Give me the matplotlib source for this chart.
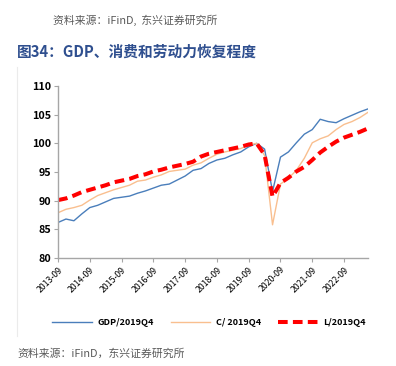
import matplotlib
matplotlib.use('Agg')
import matplotlib.pyplot as plt
from matplotlib.lines import Line2D

plt.rcParams['font.family'] = ['Noto Sans CJK SC', 'DejaVu Sans']

# quarterly data, 2013-09 .. 2023-06, index 2019Q4 = 100
quarters = [f'{y}-{m:02d}' for y in range(2013, 2024) for m in (3, 6, 9, 12)][2:42]
gdp = [86.2, 86.8, 86.5, 87.7, 88.8, 89.2, 89.8, 90.4, 90.6, 90.8,
       91.3, 91.7, 92.2, 92.7, 92.9, 93.6, 94.3, 95.3, 95.6, 96.5,
       97.1, 97.4, 98.0, 98.5, 99.4, 100.0, 99.0, 91.6, 97.6, 98.5,
       100.1, 101.6, 102.4, 104.2, 103.8, 103.6, 104.3, 104.9, 105.5, 106.0]
cons = [87.9, 88.5, 88.8, 89.2, 90.1, 90.9, 91.4, 91.9, 92.3, 92.7,
        93.4, 93.6, 94.1, 94.5, 95.1, 95.3, 95.5, 96.2, 96.6, 97.4,
        98.1, 98.5, 98.8, 99.1, 99.7, 100.0, 97.9, 85.8, 92.9, 93.9,
        95.3, 97.4, 100.1, 100.8, 101.3, 102.4, 103.3, 103.8, 104.5, 105.4]
labor = [90.1, 90.4, 90.9, 91.5, 91.9, 92.3, 92.7, 93.2, 93.5, 93.8,
         94.3, 94.6, 95.1, 95.4, 95.8, 96.1, 96.4, 96.8, 97.7, 98.2,
         98.5, 98.8, 99.1, 99.4, 99.8, 100.0, 98.0, 90.7, 93.1, 94.0,
         95.1, 95.9, 97.1, 98.4, 99.4, 100.3, 101.0, 101.5, 102.0, 102.6]
tick_labels = [q for q in quarters if q.endswith('-09')]

fig = plt.figure(figsize=(3.96, 3.66), dpi=100)
ax = fig.add_axes([0.1465, 0.295, 0.7825, 0.47])

x = list(range(len(quarters)))
ax.plot(x, gdp, color='#4A7EBB', lw=1.0, label='GDP/2019Q4')
ax.plot(x, cons, color='#F9BF8F', lw=1.0, label='C/ 2019Q4')
ax.plot(x, labor, color='#FF0000', lw=2.9, dashes=(2.4, 1.3), label='L/2019Q4')

ax.set_xlim(0, len(quarters) - 1)
ax.set_ylim(80, 110)
ax.set_yticks(range(80, 111, 5))
ax.set_xticks([i for i, q in enumerate(quarters) if q.endswith('-09')])
ax.set_xticklabels(tick_labels, rotation=45, ha='right', rotation_mode='anchor', fontsize=6.3)
for lab in ax.get_yticklabels():
    lab.set_fontsize(7.8)
    lab.set_fontweight('bold')
ax.tick_params(axis='y', length=3, color='#A6A6A6', pad=2)
ax.tick_params(axis='x', length=3, color='#A6A6A6', pad=2)
for s in ('top', 'right'):
    ax.spines[s].set_visible(False)
for s in ('left', 'bottom'):
    ax.spines[s].set_color('#A6A6A6')
    ax.spines[s].set_linewidth(1.0)

leg = ax.legend(loc='upper center', bbox_to_anchor=(0.487, -0.3), ncol=3, frameon=False,
                prop={'size': 6.5, 'weight': 'bold'}, handlelength=4.4, columnspacing=1.9,
                handletextpad=0.6)

# faint left edge of the chart area
fig.lines.append(Line2D([17 / 396, 17 / 396], [1 - 67 / 366, 1 - 336 / 366],
                        transform=fig.transFigure, color='#EBEBEB', lw=0.8))

fig.text(53 / 396, 1 - 20 / 366, '资料来源：iFinD,  东兴证券研究所', fontsize=7.8,
         color='#595959', style='italic', va='center')
fig.text(17 / 396, 1 - 52 / 366, '图34：GDP、消费和劳动力恢复程度', fontsize=10.6,
         color='#2F4F8F', fontweight='bold', va='center')
fig.text(17 / 396, 1 - 354 / 366, '资料来源：iFinD，东兴证券研究所', fontsize=7.8,
         color='#595959', style='italic', va='center')

fig.savefig('out.png', dpi=100)
